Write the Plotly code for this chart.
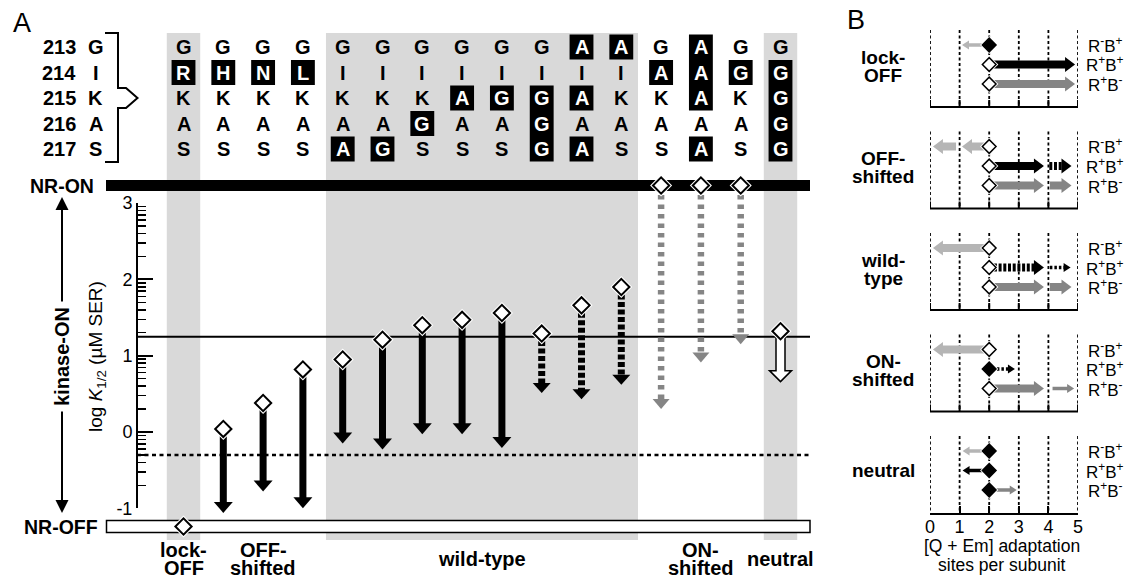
import math
import plotly.graph_objects as go

W, H = 1131, 579
FONT = "Liberation Sans, Arial, Helvetica, sans-serif"

# ===================== DATA =====================
# ---- Panel A ----
residue_numbers = [213, 214, 215, 216, 217]
wild_type_residues = ["G", "I", "K", "A", "S"]
variant_sequences = ["GRKAS", "GHKAS", "GNKAS", "GLKAS",
                     "GIKAA", "GIKAG", "GIKGS", "GIAAS", "GIGAS", "GIGGG", "AIAAA", "AIKAS",
                     "GAKAS", "AAAAA", "GGKAS", "GGGGG"]
variant_class = (["lock-OFF"] + ["OFF-shifted"] * 3 + ["wild-type"] * 8
                 + ["ON-shifted"] * 3 + ["neutral"])
class_names = ["lock-OFF", "OFF-shifted", "wild-type", "ON-shifted", "neutral"]
class_labels = ["lock-<br>OFF", "OFF-<br>shifted", "wild-type", "ON-<br>shifted", "neutral"]
shaded_classes = ["lock-OFF", "wild-type", "neutral"]
# log K1/2 (uM SER) of the kinase-ON receptor; None = non-responsive state
logk_start = [None, 0.04, 0.38, 0.82, 0.95, 1.21, 1.40, 1.47, 1.56, 1.29, 1.66, 1.90,
              None, None, None, 1.32]
nonresponsive_state = ["NR-OFF", "", "", "", "", "", "", "", "", "", "", "",
                       "NR-ON", "NR-ON", "NR-ON", ""]
logk_end = [None, -1.06, -0.78, -1.00, -0.15, -0.23, -0.03, -0.03, -0.21, 0.51, 0.43, 0.62,
            0.30, 0.91, 1.15, 0.66]
shift_kind = ["none"] + ["solid"] * 8 + ["dashed"] * 3 + ["gray_dashed"] * 3 + ["open"]
wild_type_logk = 1.25
lower_logk = -0.30
y_tick_values = [-1, 0, 1, 2, 3]
y_tick_labels = ["-1", "0", "1", "2", "3"]

# ---- Panel B ----
b_group_labels = ["lock-<br>OFF", "OFF-<br>shifted", "wild-<br>type", "ON-<br>shifted", "neutral"]
b_state_labels = ["R<sup>-</sup>B<sup>+</sup>", "R<sup>+</sup>B<sup>+</sup>", "R<sup>+</sup>B<sup>-</sup>"]
b_start_sites = 2
b_start_filled = [[True, False, False], [False, False, False], [False, False, False],
                  [False, True, False], [True, True, True]]
# (state row, from sites, to sites, colour, weight, line)
b_lockoff = [(0, 2.0, 1.08, "light", "thin", "solid"),
             (1, 2.0, 4.90, "black", "thick", "solid"),
             (2, 2.0, 4.90, "gray", "thick", "solid")]
b_offshifted = [(0, 2.0, 1.08, "light", "thick", "solid"),
                (0, 0.88, 0.10, "light", "thick", "solid"),
                (1, 2.0, 3.85, "black", "thick", "solid"),
                (1, 4.03, 4.78, "black", "thick", "dash"),
                (2, 2.0, 3.85, "gray", "thick", "solid"),
                (2, 4.05, 4.78, "gray", "thick", "solid")]
b_wildtype = [(0, 2.0, 0.10, "light", "thick", "solid"),
              (1, 2.0, 3.85, "black", "thick", "dash"),
              (1, 4.05, 4.75, "black", "thin", "dot"),
              (2, 2.0, 3.85, "gray", "thick", "solid"),
              (2, 4.05, 4.78, "gray", "thick", "solid")]
b_onshifted = [(0, 2.0, 0.10, "light", "thick", "solid"),
               (1, 2.26, 2.87, "black", "thin", "dot"),
               (2, 2.0, 3.85, "gray", "thick", "solid"),
               (2, 4.14, 4.87, "gray", "thin", "solid")]
b_neutral = [(0, 2.0, 1.10, "light", "thin", "solid"),
             (1, 2.0, 1.10, "black", "thin", "solid"),
             (2, 2.0, 2.93, "gray", "thin", "solid")]
b_x_ticks = [0, 1, 2, 3, 4, 5]

# ===================== GEOMETRY / STYLE =====================
COL0, COLW = 183.5, 39.8        # px of first column, px per column
Y0, YU = 432.0, 76.3            # px of logK = 0, px per logK unit
xa_range = [-COL0 / COLW, (W - COL0) / COLW]
ya_range = [-(H - Y0) / YU, Y0 / YU]
NR_ON_Y = (Y0 - 185.5) / YU
NR_OFF_Y = (Y0 - 526.5) / YU

BX0, BX5 = 930.0, 1078.0
BSX = (BX5 - BX0) / 5.0
B_BASE0, B_STEP = 107.0, 101.5
B_ROW_OFF = [-62.0, -42.5, -23.0]
ROW0, ROWH = 47.0, 25.5

GRAY = "#858585"
LIGHT = "#b5b5b5"
BAND = "#d9d9d9"
COLORS = {"black": "black", "gray": GRAY, "light": LIGHT}


def px(x):
    return x / W


def py(y):
    return 1 - y / H


def poly_path(points):
    return "M " + " L ".join(f"{x:.5f},{y:.5f}" for x, y in points) + " Z"


def arrow(x0, y0, x1, y1, xref, yref, sx, sy, color, shaft, head_w, head_l,
          dash="solid", hollow=False):
    dxp, dyp = (x1 - x0) * sx, (y1 - y0) * sy
    L = math.hypot(dxp, dyp)
    ux, uy = dxp / L, dyp / L
    nx, ny = -uy, ux

    def d(ox, oy):
        return x1 + ox / sx, y1 + oy / sy

    bx, by = -ux * head_l, -uy * head_l
    out = []
    if hollow:
        pts = [(-dxp + nx * shaft / 2, -dyp + ny * shaft / 2),
               (bx + nx * shaft / 2, by + ny * shaft / 2),
               (bx + nx * head_w / 2, by + ny * head_w / 2),
               (0, 0),
               (bx - nx * head_w / 2, by - ny * head_w / 2),
               (bx - nx * shaft / 2, by - ny * shaft / 2),
               (-dxp - nx * shaft / 2, -dyp - ny * shaft / 2)]
        out.append(dict(type="path", path=poly_path([d(*p) for p in pts]), xref=xref, yref=yref,
                        fillcolor="white", line=dict(color="black", width=1.5), layer="below"))
    else:
        ex, ey = d(bx + ux * 1.0, by + uy * 1.0)
        out.append(dict(type="line", x0=x0, y0=y0, x1=ex, y1=ey, xref=xref, yref=yref,
                        line=dict(color=color, width=shaft, dash=dash), layer="below"))
        pts = [(0, 0), (bx + nx * head_w / 2, by + ny * head_w / 2),
               (bx - nx * head_w / 2, by - ny * head_w / 2)]
        out.append(dict(type="path", path=poly_path([d(*p) for p in pts]), xref=xref, yref=yref,
                        fillcolor=color, line=dict(width=0), layer="below"))
    return out


shapes = []
annotations = []


def text(t, x, y, size, bold=False, xref="paper", xanchor="center", angle=0, color="black",
         bgcolor=None, pad=1):
    annotations.append(dict(text=f"<b>{t}</b>" if bold else t,
                            x=px(x) if xref == "paper" else x, y=py(y), xref=xref, yref="paper",
                            showarrow=False, xanchor=xanchor, yanchor="middle", textangle=angle,
                            font=dict(family=FONT, size=size, color=color),
                            bgcolor=bgcolor, borderpad=pad))


def lines_text(label, x, yc, size, spacing, bold=True, xref="paper"):
    parts = label.split("<br>")
    n = len(parts)
    for k, part in enumerate(parts):
        text(part, x, yc + (k - (n - 1) / 2) * spacing, size, bold=bold, xref=xref)


# ===================== PANEL A =====================
ncol = len(variant_sequences)
cols = list(range(ncol))

# shaded class bands
for cls in shaded_classes:
    idx = [i for i, c in enumerate(variant_class) if c == cls]
    shapes.append(dict(type="rect", xref="x", yref="paper", x0=min(idx) - 0.42, x1=max(idx) + 0.42,
                       y0=py(540), y1=py(33), fillcolor=BAND, line=dict(width=0), layer="below"))

# NR-ON / NR-OFF bars
shapes.append(dict(type="rect", xref="paper", yref="paper", x0=px(106), x1=px(810),
                   y0=py(191), y1=py(180), fillcolor="black", line=dict(width=0), layer="below"))
shapes.append(dict(type="rect", xref="paper", yref="paper", x0=px(106.5), x1=px(810),
                   y0=py(532.5), y1=py(520.5), fillcolor="white",
                   line=dict(color="black", width=1.5), layer="below"))

# reference lines
shapes.append(dict(type="line", xref="paper", yref="y", x0=px(137), x1=px(810),
                   y0=wild_type_logk, y1=wild_type_logk, line=dict(color="black", width=2),
                   layer="below"))
shapes.append(dict(type="line", xref="paper", yref="y", x0=px(137), x1=px(810),
                   y0=lower_logk, y1=lower_logk,
                   line=dict(color="black", width=2.5, dash="4px,3.5px"), layer="below"))

# sequence grid
for i, seq in enumerate(variant_sequences):
    r = 0
    while r < len(seq):
        if seq[r] != wild_type_residues[r]:
            r2 = r
            while r2 + 1 < len(seq) and seq[r2 + 1] != wild_type_residues[r2 + 1]:
                r2 += 1
            shapes.append(dict(type="rect", xref="x", yref="paper", x0=i - 0.30, x1=i + 0.30,
                               y0=py(ROW0 + ROWH * r2 + 12.5), y1=py(ROW0 + ROWH * r - 12.5),
                               fillcolor="black", line=dict(width=0), layer="below"))
            r = r2 + 1
        else:
            r += 1
    for r, aa in enumerate(seq):
        hl = aa != wild_type_residues[r]
        text(aa, i, ROW0 + ROWH * r, 20, bold=True, xref="x", color="white" if hl else "black")

for r, (num, aa) in enumerate(zip(residue_numbers, wild_type_residues)):
    text(str(num), 78, ROW0 + ROWH * r, 20, bold=True, xanchor="right")
    text(aa, 95.5, ROW0 + ROWH * r, 20, bold=True)

# bracket with arrow
bracket = [(105, 33), (118, 33), (118, 88), (126, 88), (137.5, 98), (126, 108), (118, 108),
           (118, 162), (105, 162)]
shapes.append(dict(type="path", xref="paper", yref="paper",
                   path="M " + " L ".join(f"{px(x):.5f},{py(y):.5f}" for x, y in bracket),
                   line=dict(color="black", width=2), layer="below"))

# kinase-ON double arrow
shapes.append(dict(type="line", xref="paper", yref="paper", x0=px(62), x1=px(62),
                   y0=py(208), y1=py(503), line=dict(color="black", width=2), layer="below"))
for tip, base in [(197, 210), (513, 500)]:
    shapes.append(dict(type="path", xref="paper", yref="paper",
                       path=poly_path([(px(62), py(tip)), (px(55.5), py(base)), (px(68.5), py(base))]),
                       fillcolor="black", line=dict(width=0), layer="below"))
text("kinase-ON", 62, 357, 20, bold=True, angle=-90, bgcolor="white", pad=5)
text("log <i>K</i><sub>1/2</sub> (µM SER)", 97, 357, 19, angle=-90)
text("NR-ON", 96, 186, 19.5, bold=True, xanchor="right")
text("NR-OFF", 100, 527, 19.5, bold=True, xanchor="right")
text("A", 22, 23, 27)
text("B", 856, 20, 27)

# class labels
for cls, lab in zip(class_names, class_labels):
    idx = [i for i, c in enumerate(variant_class) if c == cls]
    lines_text(lab, sum(idx) / len(idx), 559, 20, 18, xref="x")

# shift arrows
A_STYLES = {
    "solid": dict(color="black", shaft=7, head_w=19, head_l=11, dash="solid"),
    "dashed": dict(color="black", shaft=7, head_w=18, head_l=10, dash="5px,2.5px"),
    "gray_dashed": dict(color=GRAY, shaft=6.5, head_w=17, head_l=10, dash="4.5px,5px"),
    "open": dict(color="white", shaft=9, head_w=22, head_l=11, hollow=True),
}
start_y = [v if v is not None else (NR_ON_Y if s == "NR-ON" else NR_OFF_Y)
           for v, s in zip(logk_start, nonresponsive_state)]
for i in cols:
    k = shift_kind[i]
    if k == "none" or logk_end[i] is None:
        continue
    shapes += arrow(i, start_y[i], i, logk_end[i], "x", "y", COLW, -YU, **A_STYLES[k])

fig = go.Figure()
fig.add_trace(go.Scatter(x=cols, y=start_y, mode="markers", xaxis="x", yaxis="y",
                         marker=dict(symbol="diamond", size=17, color="white", line=dict(width=0)),
                         hoverinfo="skip", cliponaxis=False))
fig.add_trace(go.Scatter(x=cols, y=start_y, mode="markers", xaxis="x", yaxis="y",
                         marker=dict(symbol="diamond", size=12.5, color="white",
                                     line=dict(color="black", width=2)),
                         hoverinfo="skip", cliponaxis=False))
fig.add_trace(go.Scatter(x=[0], y=[0], mode="markers", xaxis="x", yaxis="y3",
                         marker=dict(opacity=0), hoverinfo="skip"))

# ===================== PANEL B =====================
b_arrow_sets = [b_lockoff, b_offshifted, b_wildtype, b_onshifted, b_neutral]
B_WEIGHT = {"thick": dict(shaft=8, head_w=15, head_l=10), "thin": dict(shaft=3.5, head_w=9, head_l=7)}
B_DASH = {"solid": "solid", "dash": "3px,1.7px", "dot": "2.5px,2px"}
bx_d, by_d, bcol = [], [], []
for p, (lab, arrows) in enumerate(zip(b_group_labels, b_arrow_sets)):
    base = B_BASE0 + B_STEP * p
    for t in b_x_ticks:
        shapes.append(dict(type="line", xref="x2", yref="y2", x0=t, x1=t, y0=base - 77, y1=base,
                           line=dict(color="black", width=1.8, dash="3px,2.5px"), layer="below"))
    if p < len(b_group_labels) - 1:
        shapes.append(dict(type="line", xref="x2", yref="y2", x0=0, x1=5, y0=base, y1=base,
                           line=dict(color="black", width=2), layer="below"))
        for t in b_x_ticks:
            shapes.append(dict(type="line", xref="x2", yref="y2", x0=t, x1=t, y0=base - 7, y1=base,
                               line=dict(color="black", width=2), layer="below"))
    for (row, x0, x1, c, wgt, ln) in arrows:
        yy = base + B_ROW_OFF[row]
        shapes += arrow(x0, yy, x1, yy, "x2", "y2", BSX, 1.0, COLORS[c],
                        dash=B_DASH[ln], **B_WEIGHT[wgt])
    for r in range(3):
        yy = base + B_ROW_OFF[r]
        bx_d.append(b_start_sites)
        by_d.append(yy)
        bcol.append("black" if b_start_filled[p][r] else "white")
        text(b_state_labels[r], 1105, yy, 17)
    nlines = len(lab.split("<br>"))
    lines_text(lab, 883, base - (41 if nlines > 1 else 43), 19, 18)

fig.add_trace(go.Scatter(x=bx_d, y=by_d, mode="markers", xaxis="x2", yaxis="y2",
                         marker=dict(symbol="diamond", size=14, color="white", line=dict(width=0)),
                         hoverinfo="skip", cliponaxis=False))
fig.add_trace(go.Scatter(x=bx_d, y=by_d, mode="markers", xaxis="x2", yaxis="y2",
                         marker=dict(symbol="diamond", size=10.5, color=bcol,
                                     line=dict(color="black", width=1.5)),
                         hoverinfo="skip", cliponaxis=False))
lines_text("[Q + Em] adaptation<br>sites per subunit", 1002, 555, 17.5, 19, bold=False)

minor_vals = [d + math.log10(k) for d in range(-1, 3) for k in range(2, 10)]

fig.update_layout(
    width=W, height=H, margin=dict(l=0, r=0, t=0, b=0),
    paper_bgcolor="white", plot_bgcolor="rgba(0,0,0,0)", showlegend=False, template="none",
    font=dict(family=FONT, color="black"),
    xaxis=dict(domain=[0, 1], range=xa_range, visible=False, fixedrange=True),
    yaxis=dict(domain=[0, 1], range=ya_range, visible=False, fixedrange=True),
    yaxis3=dict(domain=[py(Y0 + YU), py(Y0 - 3 * YU)], range=[-1, 3], anchor="free",
                position=137 / W, showline=True, linecolor="black", linewidth=2,
                ticks="inside", ticklen=15, tickwidth=2, tickcolor="black",
                tickmode="array", tickvals=y_tick_values, ticktext=y_tick_labels,
                tickfont=dict(family=FONT, size=18, color="black"),
                showgrid=False, zeroline=False, fixedrange=True,
                minor=dict(tickmode="array", tickvals=minor_vals, ticks="inside", ticklen=8,
                           tickwidth=1.5, tickcolor="black", showgrid=False)),
    xaxis2=dict(domain=[BX0 / W, BX5 / W], range=[0, 5], anchor="y2", tickmode="array",
                tickvals=b_x_ticks, ticks="inside", ticklen=7, tickwidth=2, tickcolor="black",
                showline=True, linewidth=2, linecolor="black", showgrid=False, zeroline=False,
                ticklabelstandoff=-4,
                tickfont=dict(family=FONT, size=18, color="black"), fixedrange=True),
    yaxis2=dict(domain=[py(513), py(28)], range=[513, 28], visible=False, anchor="x2",
                fixedrange=True),
    shapes=shapes, annotations=annotations,
)

fig.write_html("out.html", config={"displayModeBar": False, "staticPlot": True},
               post_script="document.body.style.margin='0px';document.body.style.overflow='hidden';")
